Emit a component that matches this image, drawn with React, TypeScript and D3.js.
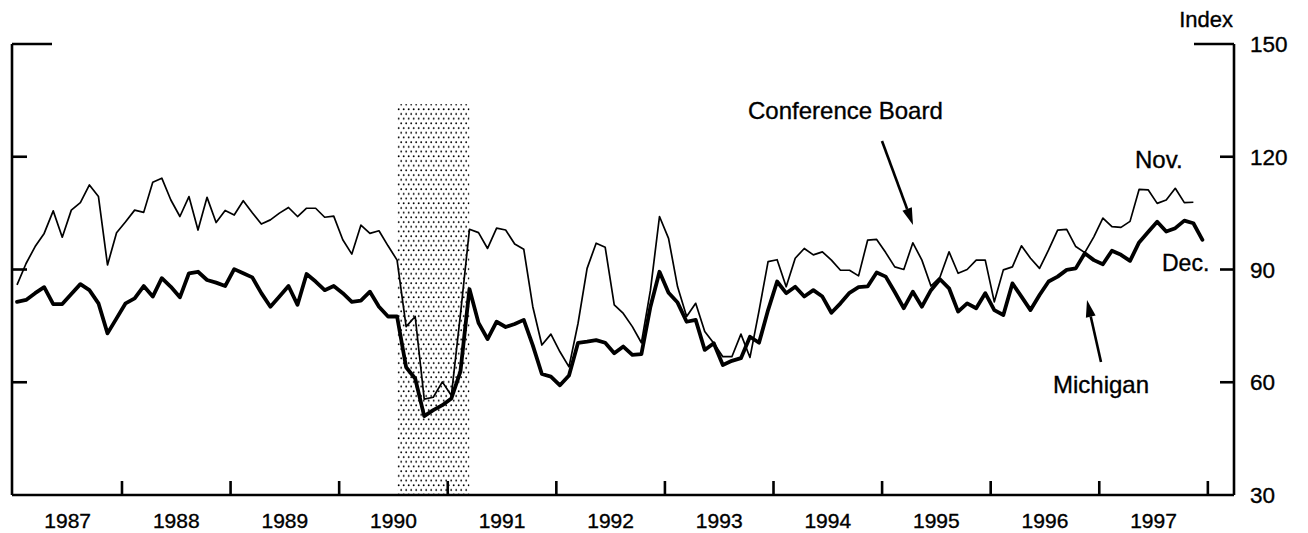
import React from "react";
import * as d3 from "d3";

const startYear = 1987;
const yearLabels = ["1987", "1988", "1989", "1990", "1991", "1992", "1993", "1994", "1995", "1996", "1997"];
const yTicks = [30, 60, 90, 120, 150];
const recession = { start: [1990, 6], end: [1991, 2] }; // year, month index (0 = Jan)

// Conference Board, monthly Jan 1987 - Nov 1997
const conferenceBoard = [
  85.9, 91.6, 96.1, 99.6, 105.6, 98.6, 105.8, 107.8, 112.5, 109.4, 91.2, 99.8,
  102.7, 105.8, 105.2, 113.2, 114.3, 108.5, 104.1, 109.4, 100.5, 109.2, 102.5, 105.7,
  104.5, 108.3, 105.1, 102.1, 103.2, 105.0, 106.5, 104.1, 106.3, 106.3, 103.9, 104.2,
  97.9, 94.1, 101.8, 99.6, 100.3, 96.3, 92.5, 74.8, 77.5, 55.5, 56.0, 60.1,
  56.5, 78.0, 100.7, 99.8, 95.6, 101.0, 100.5, 96.8, 95.4, 80.1, 69.9, 72.8,
  68.1, 64.1, 75.7, 90.3, 97.0, 95.9, 80.6, 78.3, 74.8, 70.5, 84.5, 104.1,
  98.3, 85.4, 77.5, 81.0, 73.5, 70.4, 66.8, 66.8, 72.8, 66.6, 79.0, 92.1,
  92.6, 85.4, 93.0, 95.6, 93.9, 94.7, 92.5, 89.8, 89.8, 88.3, 97.8, 98.0,
  94.5, 90.7, 90.0, 97.1, 92.5, 85.6, 88.0, 94.7, 89.0, 90.0, 92.5, 92.5,
  81.4, 89.9, 90.7, 96.3, 93.0, 90.3, 95.2, 100.5, 100.7, 96.1, 94.5, 98.7,
  103.7, 101.4, 101.2, 102.8, 111.3, 111.2, 107.6, 108.5, 111.6, 107.8, 107.9,
];

// Michigan, monthly Jan 1987 - Dec 1997
const michigan = [
  81.4, 81.9, 83.7, 85.3, 80.8, 80.8, 83.5, 86.1, 84.5, 81.0, 73.0, 77.0,
  81.0, 82.3, 85.6, 82.8, 87.7, 85.4, 82.6, 89.0, 89.4, 87.2, 86.5, 85.6,
  90.1, 89.0, 87.9, 83.7, 80.1, 82.8, 85.6, 80.6, 88.8, 86.8, 84.5, 85.6,
  83.7, 81.4, 81.7, 84.1, 80.1, 77.5, 77.5, 64.0, 61.0, 51.0, 52.6, 53.9,
  55.7, 62.8, 84.8, 75.8, 71.5, 76.1, 74.7, 75.5, 76.6, 69.8, 62.2, 61.5,
  59.2, 61.8, 70.5, 70.8, 71.2, 70.5, 67.7, 69.5, 67.3, 67.5, 80.1, 89.4,
  83.8, 81.2, 76.1, 76.6, 68.6, 70.4, 64.6, 65.7, 66.4, 72.1, 70.5, 79.2,
  86.8, 83.7, 85.4, 82.8, 84.5, 82.8, 78.5, 81.0, 83.8, 85.3, 85.5, 89.2,
  88.1, 84.0, 79.7, 84.1, 80.1, 84.5, 87.4, 85.0, 78.8, 81.0, 79.7, 83.7,
  79.2, 77.9, 86.3, 82.8, 79.2, 83.2, 86.8, 88.1, 89.9, 90.3, 94.3, 92.5,
  91.4, 95.0, 93.9, 92.3, 97.2, 100.0, 102.7, 100.1, 101.0, 103.0, 102.3, 97.9,
];

const W = 1308;
const H = 533;
const L = 12;
const R = 1234;
const T = 44;
const B = 495;
const FONT = "'Liberation Sans', Arial, Helvetica, sans-serif";

export default function App() {
  const x = d3.scaleLinear().domain([1987, 1998.25]).range([13.4, 1235]);
  const y = d3.scaleLinear().domain([30, 150]).range([B, T]);
  const monthPos = (i: number) => startYear + (i + 0.4) / 12;

  const line = d3
    .line<number>()
    .x((_, i) => x(monthPos(i)))
    .y((d) => y(d))
    .curve(d3.curveLinear);

  const recX0 = x(recession.start[0] + (recession.start[1] + 0.4) / 12);
  const recX1 = x(recession.end[0] + (recession.end[1] + 0.4) / 12);

  const yearTicks = d3.range(1988, 1999);

  const arrow = (x1: number, y1: number, x2: number, y2: number) => {
    const ang = Math.atan2(y2 - y1, x2 - x1);
    const len = 17;
    const half = 5;
    const bx = x2 - len * Math.cos(ang);
    const by = y2 - len * Math.sin(ang);
    const px = -Math.sin(ang) * half;
    const py = Math.cos(ang) * half;
    return (
      <g>
        <line x1={x1} y1={y1} x2={bx} y2={by} stroke="#000" strokeWidth={2.6} />
        <path d={`M${x2},${y2}L${bx + px},${by + py}L${bx - px},${by - py}Z`} fill="#000" />
      </g>
    );
  };

  return (
    <svg width={W} height={H} style={{ position: "absolute", left: 0, top: 0, background: "#fff" }}>
      <defs>
        <pattern id="dots" width={10} height={9.4} patternUnits="userSpaceOnUse">
          <rect width={10} height={9.4} fill="#fff" />
          <circle cx={1.2} cy={1.2} r={0.95} fill="#000" />
          <circle cx={6.2} cy={1.2} r={0.95} fill="#000" />
          <circle cx={3.7} cy={5.9} r={0.95} fill="#000" />
          <circle cx={8.7} cy={5.9} r={0.95} fill="#000" />
        </pattern>
      </defs>
      <rect x={0} y={0} width={W} height={H} fill="#fff" />

      {/* recession shading */}
      <rect x={recX0} y={y(134)} width={recX1 - recX0} height={B - y(134)} fill="url(#dots)" />

      {/* frame */}
      <g stroke="#000" strokeWidth={2.6} fill="none">
        <line x1={L} y1={T} x2={L} y2={B} />
        <line x1={R} y1={T} x2={R} y2={B} />
        <line x1={L} y1={B} x2={R} y2={B} />
        <line x1={L} y1={T} x2={L + 40} y2={T} />
        <line x1={R - 40} y1={T} x2={R} y2={T} />
        {[60, 90, 120].map((v) => (
          <g key={v}>
            <line x1={L} y1={y(v)} x2={L + 15} y2={y(v)} />
            <line x1={R - 14} y1={y(v)} x2={R} y2={y(v)} />
          </g>
        ))}
        {yearTicks.map((yr) => (
          <line key={yr} x1={x(yr)} y1={B} x2={x(yr)} y2={B - 14} />
        ))}
      </g>

      {/* series */}
      <path d={line(conferenceBoard) || ""} fill="none" stroke="#000" strokeWidth={1.7} strokeLinejoin="round" />
      <path d={line(michigan) || ""} fill="none" stroke="#000" strokeWidth={3.8} strokeLinejoin="round" strokeLinecap="round" />

      {/* labels */}
      <g fontFamily={FONT} fontSize={21} fill="#000" stroke="#000" strokeWidth={0.35}>
        {yearLabels.map((lab, i) => (
          <text key={lab} x={x(startYear + i + 0.5)} y={528} textAnchor="middle">
            {lab}
          </text>
        ))}
        {yTicks.map((v) => (
          <text key={v} x={1250} y={y(v) + 8} fontSize={22.5}>
            {v}
          </text>
        ))}
        <text x={1233} y={27} textAnchor="end" fontSize={22}>Index</text>
        <text x={748} y={119} fontSize={24}>Conference Board</text>
        <text x={1053} y={393} fontSize={24}>Michigan</text>
        <text x={1135} y={168} fontSize={24}>Nov.</text>
        <text x={1162} y={271} fontSize={23}>Dec.</text>
      </g>

      {arrow(882, 141, 913, 225)}
      {arrow(1101, 362, 1087, 300)}
    </svg>
  );
}
